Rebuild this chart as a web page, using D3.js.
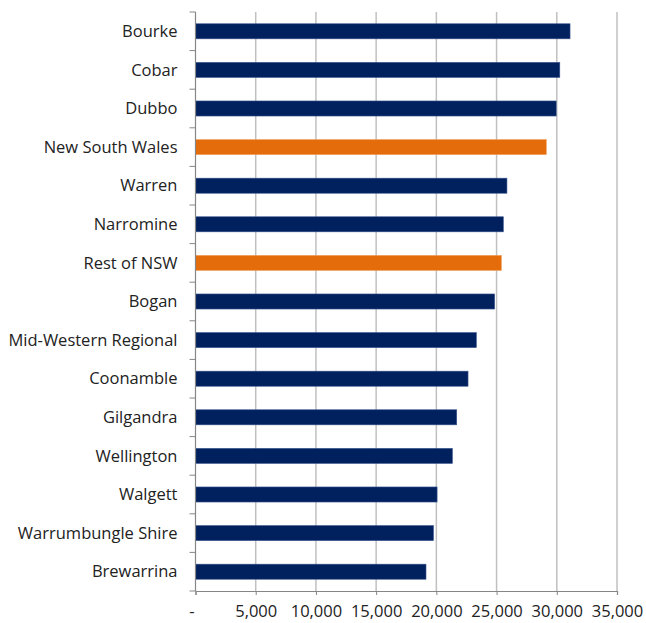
<!DOCTYPE html>
<html lang="en">
<head>
<meta charset="UTF-8">
<title>Bar chart</title>
<script src="https://cdn.jsdelivr.net/npm/d3@7"></script>
<style>
  body { margin: 0; background: #fff; }
  text { font-family: "Open Sans", Lato, sans-serif; fill: #222; }
</style>
</head>
<body>
<div id="chart"></div>
<script>
// categories, top to bottom
var categories = ["Bourke", "Cobar", "Dubbo", "New South Wales", "Warren", "Narromine",
  "Rest of NSW", "Bogan", "Mid-Western Regional", "Coonamble", "Gilgandra",
  "Wellington", "Walgett", "Warrumbungle Shire", "Brewarrina"];
var values = [31100, 30250, 29950, 29130, 25860, 25560, 25400, 24840, 23320,
  22630, 21690, 21330, 20060, 19760, 19140];
// the two benchmark rows are drawn orange
var highlight = ["New South Wales", "Rest of NSW"];
var xTicks = [0, 5000, 10000, 15000, 20000, 25000, 30000, 35000];

var width = 646, height = 623;
var margin = {top: 12, right: 29, bottom: 32, left: 195.5};
var fontSize = 16.5;

var svg = d3.select("#chart").append("svg")
  .attr("width", width)
  .attr("height", height);

var x = d3.scaleLinear()
  .domain([0, 35000])
  .range([margin.left, width - margin.right]);

var y = d3.scaleBand()
  .domain(categories)
  .range([margin.top, height - margin.bottom])
  .paddingInner(0.61)
  .paddingOuter(0.305);

// gridlines
svg.append("g")
  .selectAll("line")
  .data(xTicks.slice(1))
  .join("line")
  .attr("x1", d => x(d)).attr("x2", d => x(d))
  .attr("y1", margin.top).attr("y2", height - margin.bottom)
  .attr("stroke", "#c0c0c0")
  .attr("stroke-width", 1.5);

// bars
svg.append("g")
  .selectAll("rect")
  .data(categories)
  .join("rect")
  .attr("x", x(0))
  .attr("y", d => y(d))
  .attr("width", (d, i) => x(values[i]) - x(0))
  .attr("height", y.bandwidth())
  .attr("fill", d => highlight.includes(d) ? "#e46c0a" : "#00205e")
  .attr("stroke", d => highlight.includes(d) ? "#f0a060" : "#3a5590")
  .attr("stroke-width", 0.6);

// x axis
var xAxis = d3.axisBottom(x)
  .tickValues(xTicks)
  .tickSize(4)
  .tickPadding(10)
  .tickFormat(d => d === 0 ? "-" : d3.format(",")(d));

var gx = svg.append("g")
  .attr("transform", "translate(0," + (height - margin.bottom) + ")")
  .call(xAxis);
gx.select(".domain").attr("stroke", "#868686").attr("stroke-width", 1.2);
gx.selectAll(".tick line").attr("stroke", "#868686");
gx.selectAll(".tick text")
  .attr("font-size", fontSize)
  .attr("font-family", "'Open Sans', Lato, sans-serif")
  .attr("fill", "#222")
  .attr("dx", d => d === 0 ? -4 : 0);

// y axis: ticks at band boundaries
var gy = svg.append("g");
gy.append("line")
  .attr("x1", x(0)).attr("x2", x(0))
  .attr("y1", margin.top).attr("y2", height - margin.bottom)
  .attr("stroke", "#868686").attr("stroke-width", 1.2);
var step = y.step();
gy.selectAll(".ytick")
  .data(d3.range(categories.length + 1))
  .join("line")
  .attr("class", "ytick")
  .attr("x1", x(0) - 6).attr("x2", x(0))
  .attr("y1", i => margin.top + i * step)
  .attr("y2", i => margin.top + i * step)
  .attr("stroke", "#868686");

gy.selectAll(".ylabel")
  .data(categories)
  .join("text")
  .attr("class", "ylabel")
  .attr("x", x(0) - 18)
  .attr("y", d => y(d) + y.bandwidth() / 2)
  .attr("dy", "0.35em")
  .attr("text-anchor", "end")
  .attr("font-size", fontSize)
  .text(d => d);
</script>
</body>
</html>
